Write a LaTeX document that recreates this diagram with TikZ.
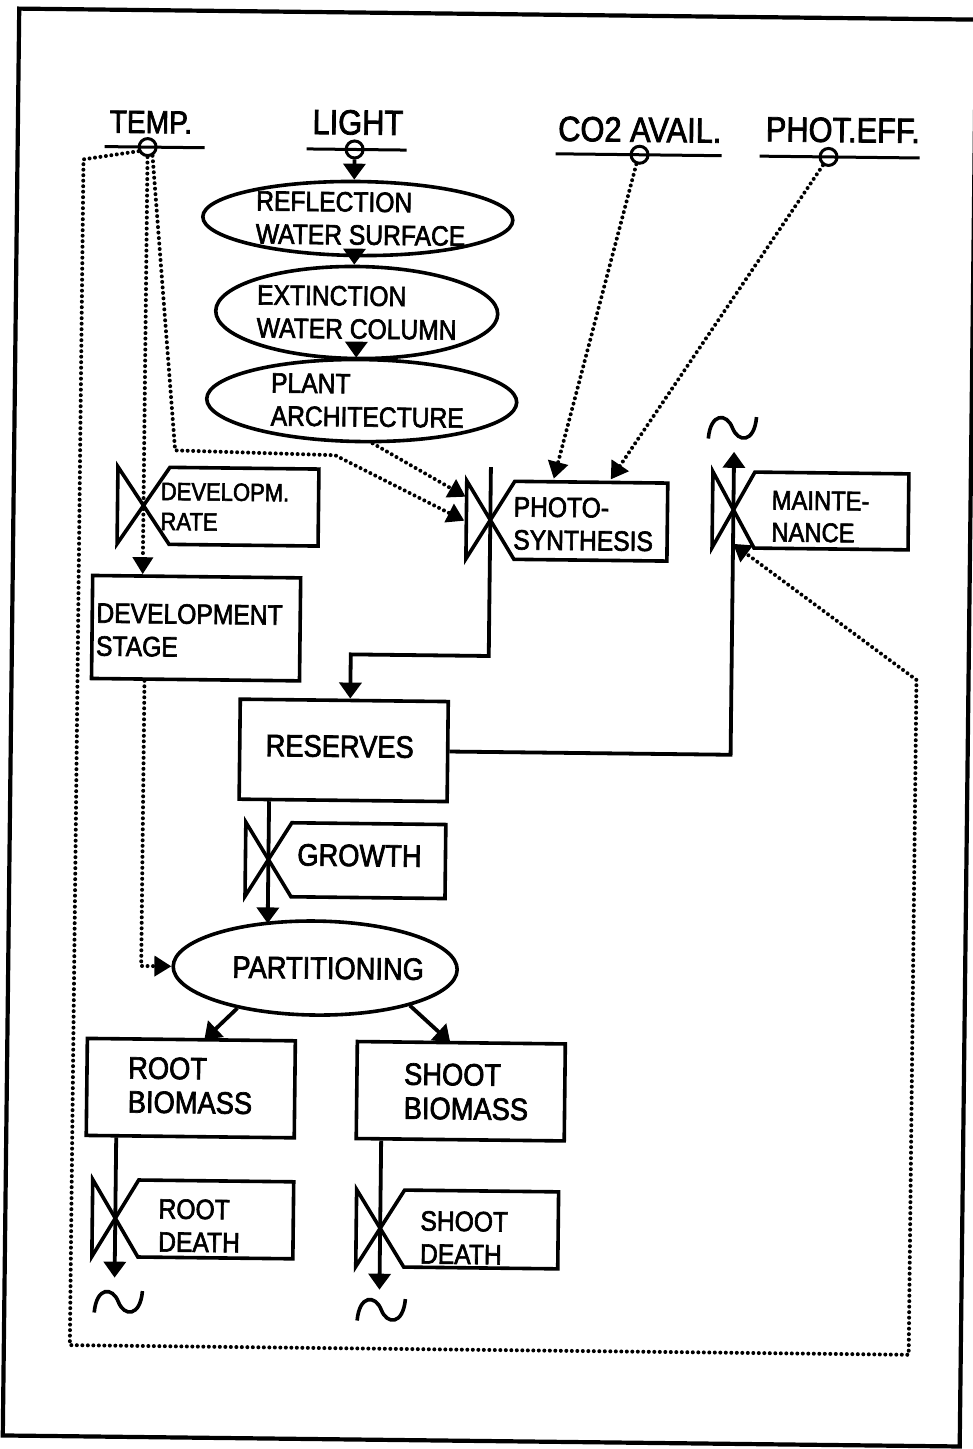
\documentclass[tikz,border=0pt]{standalone}
\usepackage{fontspec}
\setmainfont{Liberation Sans}[FakeStretch=0.88,FakeBold=2.2]
\usetikzlibrary{arrows.meta,shapes.geometric}
\newcommand\fsTop{\fontsize{35}{40}\selectfont}
\newcommand\fsBox{\fontsize{28}{33}\selectfont}
\newcommand\fsBig{\fontsize{31}{34}\selectfont}
\newcommand\fsSmall{\fontsize{25}{30}\selectfont}
\newcommand\valvesym[6]{% name, cx, top, bottom, right, a
  \draw[valvestyle] ({#2-#6},#3) -- ({#2-#6},#4) -- ({#2+#6},#3) -- (#5,#3) -- (#5,#4) -- ({#2+#6},#4) -- cycle;
  \coordinate (#1) at (#2,{(#3+#4)/2});}
\newcommand\cloudsym[2]{%
  \draw[line width=3.6pt] ({#1-24},{#2+11}) .. controls ({#1-22},{#2-15}) and ({#1-6},{#2-15}) .. (#1,#2) .. controls ({#1+6},{#2+15}) and ({#1+22},{#2+15}) .. ({#1+24},{#2-11});}
\begin{document}
\begin{tikzpicture}[x=1pt,y=-1pt,
  flow/.style={line width=3.8pt,-{Triangle[width=22pt,length=16pt]}},
  info/.style={line width=4pt,dash pattern=on 0pt off 5.5pt,line cap=round,-{Triangle[width=20pt,length=17pt]}},
  boxn/.style={draw,line width=3.6pt,minimum width=208pt,minimum height=100pt,inner sep=0pt},
  ell/.style={draw,ellipse,line width=3.6pt,inner sep=0pt},
  lbl/.style={inner sep=0pt,align=left,font=\fsBox},
  toplbl/.style={inner sep=0pt,font=\fsTop},
  varc/.style={draw,circle,line width=3pt,minimum size=17pt,inner sep=0pt},
  varline/.style={line width=3pt},
  valvestyle/.style={line width=3.6pt,line join=miter}
]
\useasboundingbox (0,0) rectangle (973,1449);
\begin{scope}[rotate around={-0.66:(486,724)},transform shape]
% frame
\draw[line width=4.2pt] (11,14) rectangle (968,1441);

% top variables
\draw[varline] (98,151) -- (198,151);
\node[varc] (tempC) at (141,151) {};
\node[toplbl,font=\fontsize{32}{38}\selectfont] (tempL) at (144,126) {TEMP.};
\draw[varline] (300,151) -- (400,151);
\node[varc] (lightC) at (348,151) {};
\node[toplbl] (lightL) at (351,124) {LIGHT};
\draw[varline] (549,153) -- (715,153);
\node[varc] (co2C) at (633,153) {};
\node[toplbl] (co2L) at (633,128) {CO2 AVAIL.};
\draw[varline] (753,153) -- (913,153);
\node[varc] (peC) at (822,153) {};
\node[toplbl] (peL) at (836,126) {PHOT.EFF.};

% ellipses of light chain
\node[ell,minimum width=310pt,minimum height=74pt] (refl) at (352,220) {};
\node[lbl,anchor=west] (reflT) at (250,220) {REFLECTION\\WATER SURFACE};
\node[ell,minimum width=282pt,minimum height=92pt] (ext) at (352,314) {};
\node[lbl,anchor=west] (extT) at (252,314) {EXTINCTION\\WATER COLUMN};
\node[ell,minimum width=310pt,minimum height=82pt] (plant) at (358,402) {};
\node[lbl,anchor=west] (plantT) at (267,402) {PLANT\\ARCHITECTURE};
\coordinate (a1) at (349,251);
\coordinate (a2) at (352,345);
\draw[flow] (lightC.south) -- (lightC.south |- refl.north);
\draw[flow] (a1) -- (a1 |- ext.north);
\draw[flow] (a2) -- (a2 |- plant.north);

% valves
\valvesym{drV}{141}{471}{548}{316}{26}
\node[lbl,font=\fsSmall,anchor=west] (drT) at (158,510) {DEVELOPM.\\RATE};
\valvesym{phV}{488}{481}{559}{665}{24}
\node[lbl,anchor=west] (phT) at (511,523) {PHOTO-\\SYNTHESIS};
\valvesym{mtV}{731}{469}{545}{906}{21}
\node[lbl,font=\fontsize{27}{32}\selectfont,anchor=west] (mtT) at (769,513) {MAINTE-\\NANCE};
\valvesym{grV}{270}{825}{899}{447}{23}
\node[lbl,font=\fsBig] (grT) at (361,857) {GROWTH};
\valvesym{rdV}{121}{1184}{1261}{299}{23}
\node[lbl,anchor=west] (rdT) at (164,1229) {ROOT\\DEATH};
\valvesym{sdV}{386}{1191}{1268}{564}{24}
\node[lbl,anchor=west] (sdT) at (426,1238) {SHOOT\\DEATH};

% boxes
\node[boxn,minimum height=103pt] (devS) at (195,631.5) {};
\node[lbl,anchor=west] (devT) at (95,634) {DEVELOPMENT\\STAGE};
\node[boxn] (res) at (344,752) {};
\node[lbl,font=\fsBig] (resT) at (340,748) {RESERVES};
\node[boxn,minimum height=97pt] (rootB) at (195,1091.5) {};
\node[lbl,font=\fsBig,anchor=west] (rootT) at (132,1089) {ROOT\\BIOMASS};
\node[boxn,minimum height=97pt] (shootB) at (465,1091.5) {};
\node[lbl,font=\fsBig,anchor=west] (shootT) at (408,1092) {SHOOT\\BIOMASS};
\node[ell,minimum width=284pt,minimum height=94pt] (part) at (318,970) {};
\node[lbl,font=\fsBig] (partT) at (331,970) {PARTITIONING};

% material flows
\coordinate (phTop) at (488,467);
\coordinate (phBend) at (350,656);
\draw[flow] (phTop) -- (phTop |- phBend) -- (phBend) -- (phBend |- res.north);
\coordinate (mtEnd) at (731,449);
\draw[flow] (res.east) -- (res.east -| mtEnd) -- (mtEnd);
\cloudsym{729}{425}
\coordinate (grEnd) at (270,926);
\draw[flow] (res.south -| grV) -- (grEnd);
\coordinate (rootIn) at (208,1043);
\coordinate (shootIn) at (454,1043);
\draw[flow] (part.208.5) -- (rootIn);
\draw[flow] (part.339.7) -- (shootIn);
\coordinate (rdEnd) at (121,1282);
\draw[flow] (rootB.south -| rdV) -- (rdEnd);
\cloudsym{125}{1306}
\coordinate (sdEnd) at (386,1291);
\draw[flow] (shootB.south -| sdV) -- (sdEnd);
\cloudsym{388}{1311}

% information links
\coordinate (loopA) at (77,164);
\coordinate (loopB) at (77,1350);
\coordinate (loopC) at (916,1350);
\coordinate (loopD) at (916,675);
\coordinate (mtIn) at (731,541);
\draw[info] (tempC.205) -- (loopA) -- (loopB) -- (loopC) -- (loopD) -- (mtIn);
\draw[info] (tempC.south) -- (tempC.south |- devS.north);
\coordinate (tA) at (172,454);
\coordinate (tB) at (332,457);
\coordinate (phIn2) at (462,521);
\draw[info] (tempC.300) -- (tA) -- (tB) -- (phIn2);
\coordinate (phIn1) at (463,497);
\draw[info] (plant.285) -- (phIn1);
\coordinate (co2In) at (551,478);
\draw[info] (co2C.252) -- (co2In);
\coordinate (peIn) at (608,478);
\draw[info] (peC.237) -- (peIn);
\coordinate (dsBend) at (144,970);
\draw[info] (devS.south -| dsBend) -- (dsBend) -- (part.west);
\end{scope}
\end{tikzpicture}
\end{document}
